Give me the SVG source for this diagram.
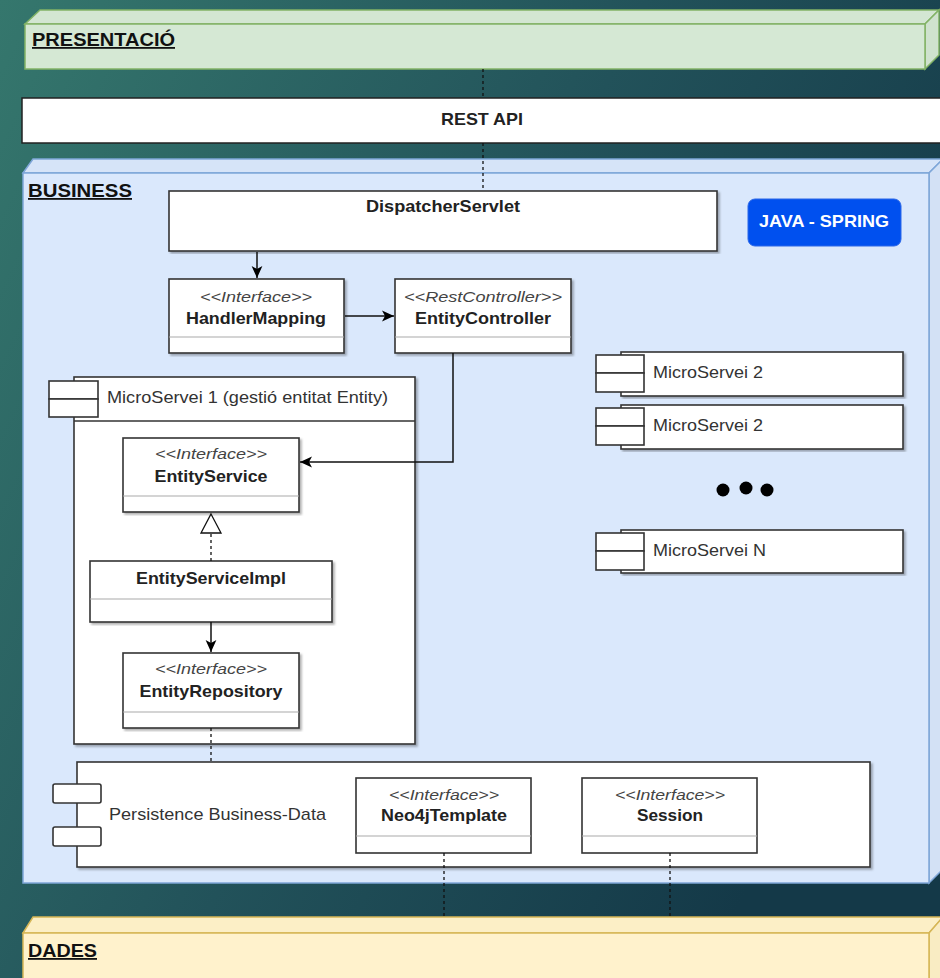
<svg xmlns="http://www.w3.org/2000/svg" width="940" height="978" viewBox="0 0 940 978">
<defs>
<linearGradient id="bg" x1="0" y1="0" x2="1" y2="0.5">
<stop offset="0" stop-color="#35776d"/>
<stop offset="0.55" stop-color="#22525a"/>
<stop offset="1" stop-color="#143948"/>
</linearGradient>
<filter id="sh" x="-5%" y="-5%" width="110%" height="110%">
<feDropShadow dx="2" dy="2" stdDeviation="1" flood-color="#000" flood-opacity="0.3"/>
</filter>
<marker id="arr" markerUnits="userSpaceOnUse" markerWidth="12" markerHeight="12" viewBox="0 0 10 10" refX="10" refY="5" orient="auto">
<path d="M0,0.5 L10,5 L0,9.5 L2.5,5 Z" fill="#000"/>
</marker>
<style>
.lbl{font-family:"Liberation Sans",Arial,sans-serif;fill:#222}
.layer{font-family:"Liberation Sans",Arial,sans-serif;font-weight:bold;font-size:18px;text-decoration:underline;fill:#111}
.box{fill:#fff;stroke:#333;stroke-width:1.6}
.div{stroke:#aaa;stroke-width:1.2}
.st{font-style:italic;font-size:15px;fill:#444}
.nm{font-weight:bold;font-size:17px}
.rg{font-size:17px;fill:#333}
.dash{stroke:#111;stroke-width:1.3;stroke-dasharray:3 3;fill:none}
.line{stroke:#111;stroke-width:1.5;fill:none}
</style>
</defs>
<rect width="940" height="978" fill="url(#bg)"/>

<g id="presentacio">
<polygon points="25,24 40,10 939,10 925,24" fill="#d3e6d2" stroke="#82b366" stroke-width="1.5"/>
<polygon points="925,24 939,10 939,55 925,69" fill="#cfe2ce" stroke="#82b366" stroke-width="1.5"/>
<rect x="25" y="24" width="900" height="45" fill="#d5e8d4" stroke="#82b366" stroke-width="1.5"/>
<text class="layer" x="32" y="46" textLength="143" lengthAdjust="spacingAndGlyphs">PRESENTACIÓ</text>
</g>

<g id="restapi">
<rect x="22" y="98" width="925" height="45" fill="#fff" stroke="#222" stroke-width="1.5"/>
<text class="lbl" x="482" y="125" text-anchor="middle" font-weight="bold" font-size="17" textLength="82" lengthAdjust="spacingAndGlyphs">REST API</text>
</g>

<g id="business">
<polygon points="23,173 33,159 943,159 929,173" fill="#d6e4f8" stroke="#7ea6d8" stroke-width="1.5"/>
<polygon points="929,173 943,159 943,869 929,883" fill="#d3e1f5" stroke="#7ea6d8" stroke-width="1.5"/>
<rect x="23" y="173" width="906" height="710" fill="#dae8fc" stroke="#7ea6d8" stroke-width="1.5"/>
<text class="layer" x="28" y="197" textLength="104" lengthAdjust="spacingAndGlyphs">BUSINESS</text>
</g>

<g id="dades">
<polygon points="23,933 33,917 943,917 929,933" fill="#fcefc6" stroke="#d6b656" stroke-width="1.5"/>
<polygon points="929,933 943,917 943,990 929,990" fill="#f9ecc3" stroke="#d6b656" stroke-width="1.5"/>
<rect x="23" y="933" width="906" height="60" fill="#fff2cc" stroke="#d6b656" stroke-width="1.5"/>
<text class="layer" x="28" y="957" textLength="69" lengthAdjust="spacingAndGlyphs">DADES</text>
</g>

<g id="java-spring">
<rect x="748" y="199" width="153" height="47" rx="7" fill="#0050ef" stroke="#2a66e8" stroke-width="1"/>
<text class="lbl" x="824" y="227" text-anchor="middle" font-weight="bold" font-size="17" fill="#fff" style="fill:#fff" textLength="130" lengthAdjust="spacingAndGlyphs">JAVA - SPRING</text>
</g>

<g id="dispatcherservlet">
<rect class="box" x="169" y="191" width="548" height="60" filter="url(#sh)"/>
<text class="lbl nm" x="443" y="212" text-anchor="middle" textLength="154" lengthAdjust="spacingAndGlyphs">DispatcherServlet</text>
</g>

<g id="handlermapping">
<rect class="box" x="169" y="279" width="175" height="74" filter="url(#sh)"/>
<line class="div" x1="169" y1="337" x2="344" y2="337"/>
<text class="lbl st" x="256" y="302" text-anchor="middle" textLength="112" lengthAdjust="spacingAndGlyphs">&lt;&lt;Interface&gt;&gt;</text>
<text class="lbl nm" x="256" y="324" text-anchor="middle" textLength="140" lengthAdjust="spacingAndGlyphs">HandlerMapping</text>
</g>

<g id="entitycontroller">
<rect class="box" x="395" y="279" width="176" height="74" filter="url(#sh)"/>
<line class="div" x1="395" y1="337" x2="571" y2="337"/>
<text class="lbl st" x="483" y="302" text-anchor="middle" textLength="158" lengthAdjust="spacingAndGlyphs">&lt;&lt;RestController&gt;&gt;</text>
<text class="lbl nm" x="483" y="324" text-anchor="middle" textLength="136" lengthAdjust="spacingAndGlyphs">EntityController</text>
</g>

<g id="microservei1">
<rect class="box" x="74" y="377" width="341" height="367" filter="url(#sh)"/>
<line x1="74" y1="421" x2="415" y2="421" stroke="#333" stroke-width="1.6"/>
<rect class="box" x="49" y="381" width="49" height="18"/>
<rect class="box" x="49" y="399" width="49" height="18"/>
<text class="lbl rg" x="107" y="403" textLength="281" lengthAdjust="spacingAndGlyphs">MicroServei 1 (gestió entitat Entity)</text>
</g>

<g id="entityservice">
<rect class="box" x="123" y="438" width="176" height="74" filter="url(#sh)"/>
<line class="div" x1="123" y1="496" x2="299" y2="496"/>
<text class="lbl st" x="211" y="459" text-anchor="middle" textLength="112" lengthAdjust="spacingAndGlyphs">&lt;&lt;Interface&gt;&gt;</text>
<text class="lbl nm" x="211" y="482" text-anchor="middle" textLength="113" lengthAdjust="spacingAndGlyphs">EntityService</text>
</g>

<g id="entityserviceimpl">
<rect class="box" x="90" y="561" width="242" height="61" filter="url(#sh)"/>
<line class="div" x1="90" y1="599" x2="332" y2="599"/>
<text class="lbl nm" x="211" y="584" text-anchor="middle" textLength="150" lengthAdjust="spacingAndGlyphs">EntityServiceImpl</text>
</g>

<g id="entityrepository">
<rect class="box" x="123" y="653" width="176" height="75" filter="url(#sh)"/>
<line class="div" x1="123" y1="712" x2="299" y2="712"/>
<text class="lbl st" x="211" y="674" text-anchor="middle" textLength="112" lengthAdjust="spacingAndGlyphs">&lt;&lt;Interface&gt;&gt;</text>
<text class="lbl nm" x="211" y="697" text-anchor="middle" textLength="143" lengthAdjust="spacingAndGlyphs">EntityRepository</text>
</g>

<g id="microservei2a">
<rect class="box" x="621" y="352" width="282" height="44" filter="url(#sh)"/>
<rect class="box" x="596" y="355" width="48" height="18"/>
<rect class="box" x="596" y="373" width="48" height="19"/>
<text class="lbl rg" x="653" y="378" textLength="110" lengthAdjust="spacingAndGlyphs">MicroServei 2</text>
</g>

<g id="microservei2b">
<rect class="box" x="621" y="405" width="282" height="44" filter="url(#sh)"/>
<rect class="box" x="596" y="408" width="48" height="18"/>
<rect class="box" x="596" y="426" width="48" height="19"/>
<text class="lbl rg" x="653" y="431" textLength="110" lengthAdjust="spacingAndGlyphs">MicroServei 2</text>
</g>

<g id="dots">
<circle cx="723" cy="490" r="6.5" fill="#000"/>
<circle cx="746" cy="488" r="6.5" fill="#000"/>
<circle cx="767" cy="490" r="6.5" fill="#000"/>
</g>

<g id="microserveiN">
<rect class="box" x="621" y="530" width="282" height="43" filter="url(#sh)"/>
<rect class="box" x="596" y="533" width="48" height="18"/>
<rect class="box" x="596" y="551" width="48" height="19"/>
<text class="lbl rg" x="653" y="556" textLength="113" lengthAdjust="spacingAndGlyphs">MicroServei N</text>
</g>

<g id="persistence">
<rect class="box" x="77" y="762" width="793" height="105" filter="url(#sh)"/>
<rect class="box" x="53" y="784" width="48" height="19" rx="2"/>
<rect class="box" x="53" y="827" width="48" height="19" rx="2"/>
<text class="lbl rg" x="109" y="820" textLength="217" lengthAdjust="spacingAndGlyphs">Persistence Business-Data</text>
</g>

<g id="neo4jtemplate">
<rect class="box" x="356" y="778" width="175" height="75"/>
<line class="div" x1="356" y1="836" x2="531" y2="836"/>
<text class="lbl st" x="444" y="800" text-anchor="middle" textLength="110" lengthAdjust="spacingAndGlyphs">&lt;&lt;Interface&gt;&gt;</text>
<text class="lbl nm" x="444" y="821" text-anchor="middle" textLength="126" lengthAdjust="spacingAndGlyphs">Neo4jTemplate</text>
</g>

<g id="session">
<rect class="box" x="582" y="778" width="175" height="75"/>
<line class="div" x1="582" y1="836" x2="757" y2="836"/>
<text class="lbl st" x="670" y="800" text-anchor="middle" textLength="110" lengthAdjust="spacingAndGlyphs">&lt;&lt;Interface&gt;&gt;</text>
<text class="lbl nm" x="670" y="821" text-anchor="middle" textLength="66" lengthAdjust="spacingAndGlyphs">Session</text>
</g>

<g id="connectors">
<line class="dash" x1="483" y1="69" x2="483" y2="98"/>
<line class="dash" x1="483" y1="143" x2="483" y2="191"/>
<line class="line" x1="257" y1="252" x2="257" y2="278" marker-end="url(#arr)"/>
<line class="line" x1="345" y1="316" x2="394" y2="316" marker-end="url(#arr)"/>
<polyline class="line" points="453,353 453,462 300,462" marker-end="url(#arr)"/>
<line class="dash" x1="211" y1="561" x2="211" y2="533"/>
<polygon points="211,514 221,533 201,533" fill="#fff" stroke="#111" stroke-width="1.3"/>
<line class="line" x1="211" y1="622" x2="211" y2="652" marker-end="url(#arr)"/>
<line class="dash" x1="211" y1="728" x2="211" y2="762"/>
<line class="dash" x1="444" y1="853" x2="444" y2="917"/>
<line class="dash" x1="670" y1="853" x2="670" y2="917"/>
</g>
</svg>
